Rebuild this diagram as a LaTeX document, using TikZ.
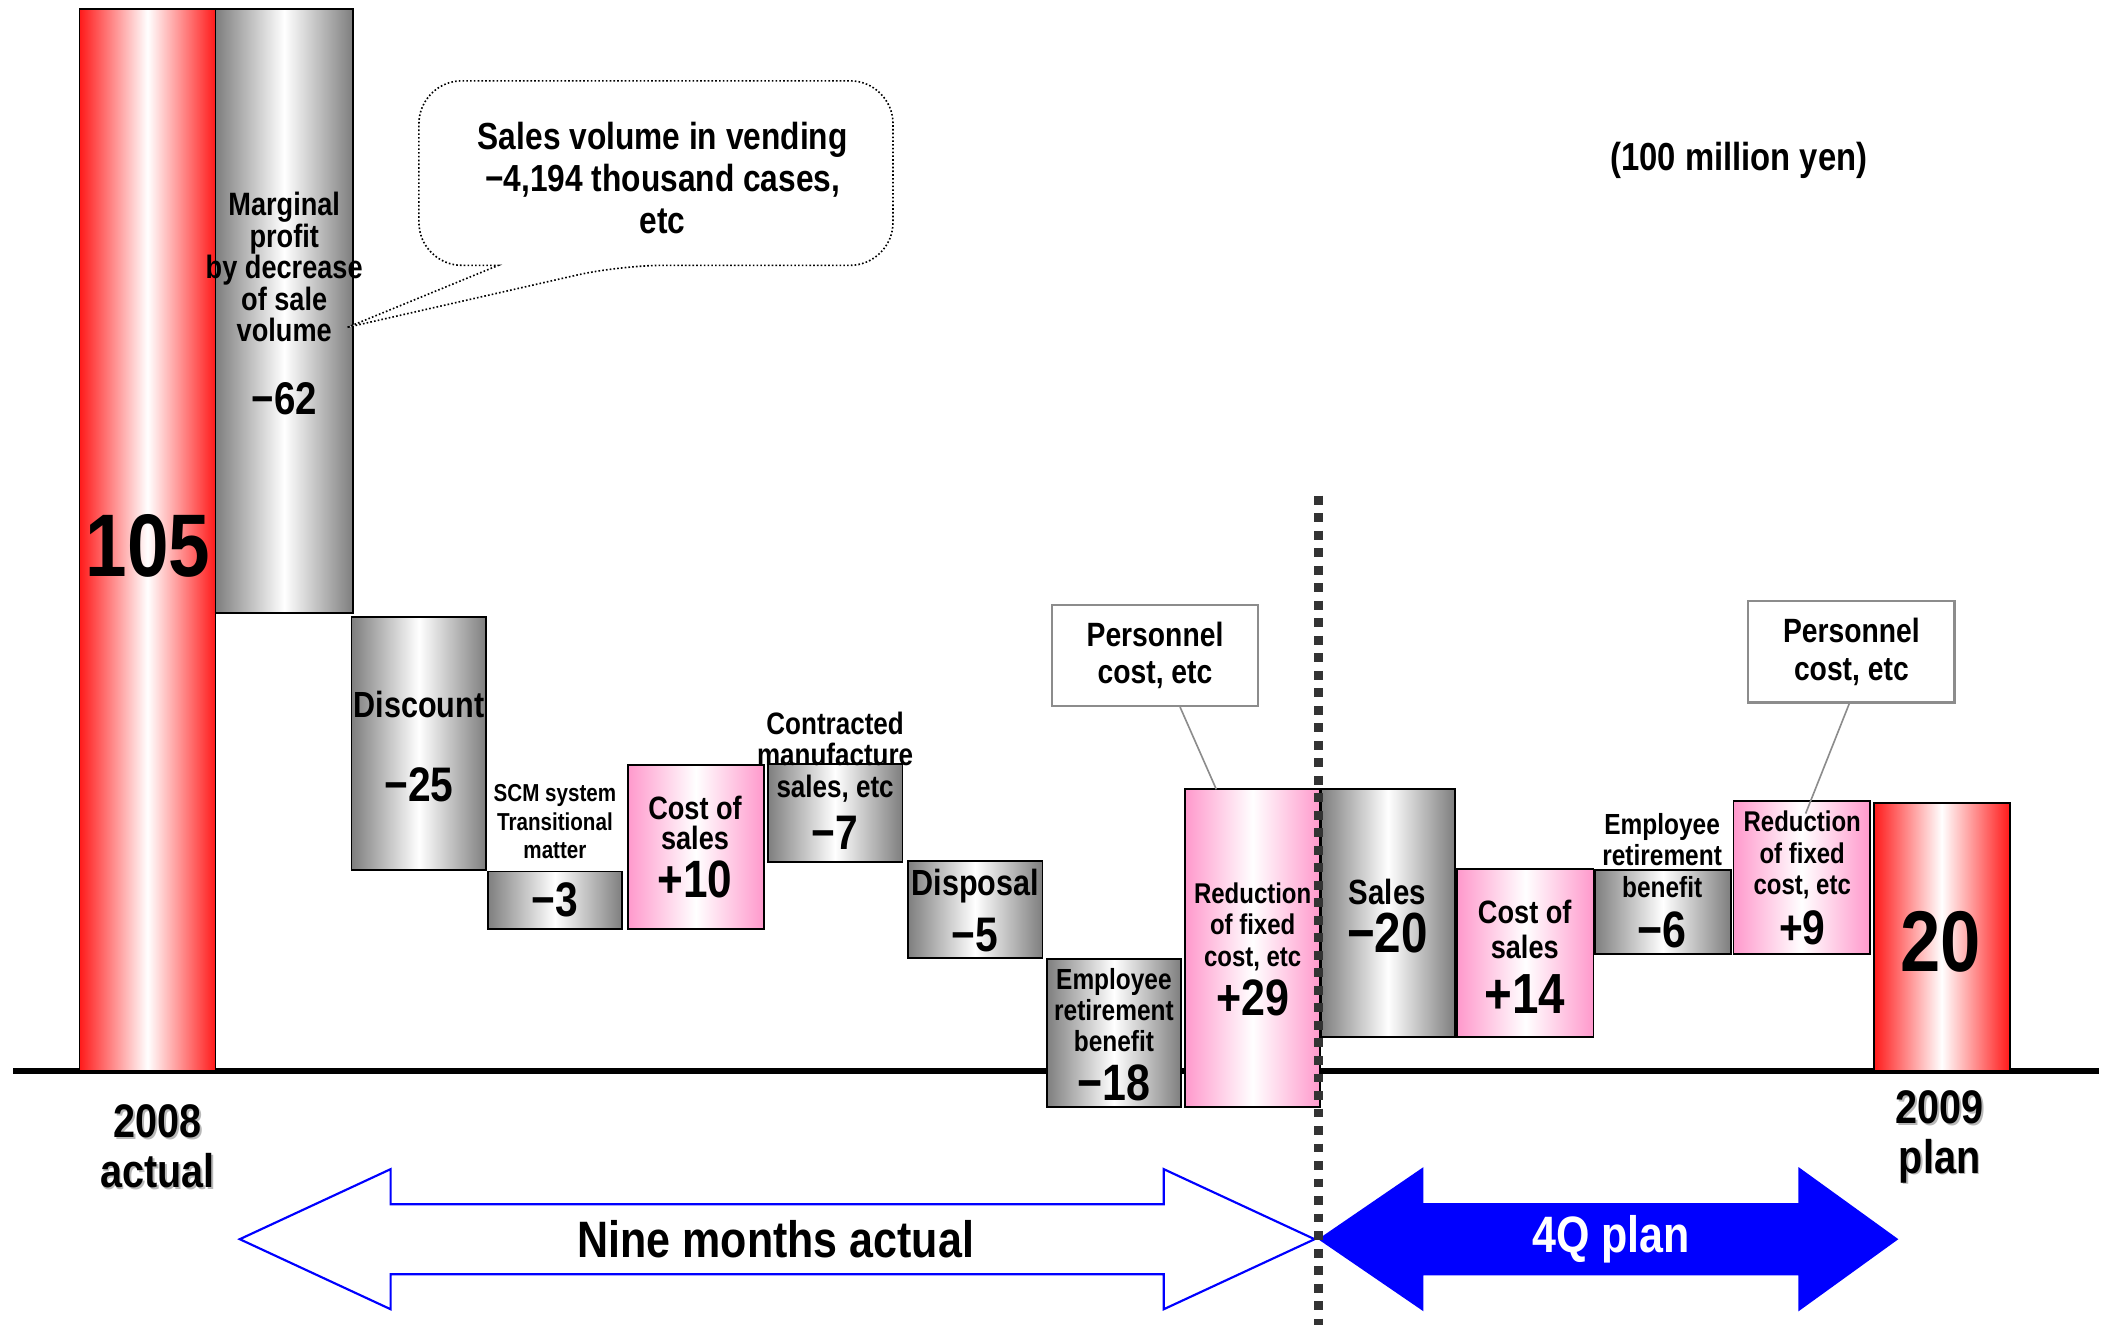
\documentclass[tikz,border=0pt]{standalone}
\usepackage{fontspec}
\setmainfont{Liberation Sans}[FakeStretch=0.84]
\usetikzlibrary{calc}
\definecolor{barred}{HTML}{FF1A1A}
\definecolor{bargrey}{HTML}{7E7E7E}
\definecolor{barpink}{HTML}{FF99CC}
\definecolor{divgrey}{HTML}{333333}
\definecolor{boxgrey}{HTML}{8C8C8C}
\definecolor{arrowblue}{HTML}{0000FF}
\newcommand\tf[2]{\bfseries\fontsize{#1}{#2}\selectfont}
\begin{document}
\begin{tikzpicture}[x=0.5pt,y=-0.5pt,
  barbox/.style={draw=black, line width=0.7pt, inner sep=0pt, outer sep=0pt, anchor=north west},
  redbar/.style={barbox, left color=barred, right color=barred, middle color=white},
  greybar/.style={barbox, left color=bargrey, right color=bargrey, middle color=white},
  pinkbar/.style={barbox, left color=barpink, right color=barpink, middle color=white},
  txt/.style={inner sep=0pt, outer sep=0pt, align=center},
  pbox/.style={draw=boxgrey, line width=0.8pt, fill=white, inner sep=0pt, align=center,
    minimum width=76.5pt, minimum height=37.5pt, font=\tf{12.5}{14}},
  pline/.style={draw=boxgrey, line width=0.6pt},
  callout/.style={draw=black, line width=0.6pt, dash pattern=on 0.6pt off 0.8pt, fill=white},
  divider/.style={draw=divgrey, line width=3.3pt, dash pattern=on 3.3pt off 3.2pt},
  spanarrow/.style={draw=arrowblue, line width=0.8pt},
  yearshadow/.style={txt, text=black!28, font=\tf{17.5}{18.5}},
  yearlabel/.style={txt, font=\tf{17.5}{18.5}},
]
% canvas
\useasboundingbox (0,0) rectangle (1568,984);
\fill[white] (0,0) rectangle (1568,984);

% horizontal axis
\coordinate (axl) at (10,795);
\coordinate (axr) at (1558,795);
\draw[line width=2pt] (axl) -- (axr);

% waterfall bars
\node[redbar,  minimum width=50.5pt, minimum height=394pt]  (b105) at (59,7) {};
\node[greybar, minimum width=51pt,   minimum height=224pt]  (b62)  at (160,7) {};
\node[greybar, minimum width=50pt,   minimum height=94pt]   (b25)  at (261,458) {};
\node[greybar, minimum width=50pt,   minimum height=21.5pt] (b3)   at (362,647) {};
\node[pinkbar, minimum width=50.5pt, minimum height=61pt]   (b10)  at (466,568) {};
\node[greybar, minimum width=50pt,   minimum height=36.5pt] (b7)   at (570,567) {};
\node[greybar, minimum width=50pt,   minimum height=36pt]   (b5)   at (674,639) {};
\node[greybar, minimum width=50pt,   minimum height=55pt]   (b18)  at (777,712) {};
\node[pinkbar, minimum width=50pt,   minimum height=118pt]  (b29)  at (880,586) {};
\node[greybar, minimum width=49.5pt, minimum height=92pt]   (b20s) at (981,586) {};
\node[pinkbar, minimum width=50.5pt, minimum height=62.5pt] (b14)  at (1082,645) {};
\node[greybar, minimum width=50.5pt, minimum height=31pt]   (b6)   at (1184,646) {};
\node[pinkbar, minimum width=50.5pt, minimum height=56.5pt] (b9)   at (1287,595) {};
\node[redbar,  minimum width=50.5pt, minimum height=99.5pt] (b20)  at (1391,596) {};

% bar labels and values
\node[txt, font=\tf{33}{33}] (v105) at (110,405) {105};
\node[txt, font=\tf{12}{11.7}] (l62) at (211,198.5) {Marginal\\profit\\by decrease\\of sale\\volume};
\node[txt, font=\tf{17}{17}] (v62) at (211,296) {−62};
\node[txt, font=\tf{13.5}{13.5}] (l25) at (311,523) {Discount};
\node[txt, font=\tf{18}{18}] (v25) at (311,583) {−25};
\node[txt, font=\tf{9.1}{10.5}] (l3) at (412,610) {SCM system\\Transitional\\matter};
\node[txt, font=\tf{18}{18}] (v3) at (412,668) {−3};
\node[txt, font=\tf{12}{11}] (l10) at (516,611) {Cost of\\sales};
\node[txt, font=\tf{19.5}{19.5}] (v10) at (516,653) {+10};
\node[txt, font=\tf{11.5}{11.75}] (l7) at (620,562) {Contracted\\manufacture\\sales, etc};
\node[txt, font=\tf{18}{18}] (v7) at (620,618) {−7};
\node[txt, font=\tf{13.5}{13.5}] (l5) at (724,658) {Disposal};
\node[txt, font=\tf{18}{18}] (v5) at (724,694) {−5};
\node[txt, font=\tf{10.8}{11.5}] (l18) at (827,750) {Employee\\retirement\\benefit};
\node[txt, font=\tf{19}{19}] (v18) at (827,804) {−18};
\node[txt, font=\tf{10.6}{11.7}] (l29) at (930,688) {Reduction\\of fixed\\cost, etc};
\node[txt, font=\tf{19}{19}] (v29) at (930,741) {+29};
\node[txt, font=\tf{13}{13}] (l20s) at (1030,662) {Sales};
\node[txt, font=\tf{21}{21}] (v20s) at (1030,693) {−20};
\node[txt, font=\tf{12}{13}] (l14) at (1132,690) {Cost of\\sales};
\node[txt, font=\tf{21}{21}] (v14) at (1132,738) {+14};
\node[txt, font=\tf{10.8}{11.7}] (l6) at (1234,635) {Employee\\retirement\\benefit};
\node[txt, font=\tf{19}{19}] (v6) at (1234,690) {−6};
\node[txt, font=\tf{10.6}{11.7}] (l9) at (1338,635) {Reduction\\of fixed\\cost, etc};
\node[txt, font=\tf{18}{18}] (v9) at (1338,689) {+9};
\node[txt, font=\tf{32}{32}] (v20) at (1441,699) {20};

% speech bubble for the sales volume note
\coordinate (tip) at (258,243);
\draw[callout] (tip) -- (370,197) [rounded corners=16pt] -- (311,197) -- (311,60)
  -- (663,60) -- (663,197) -- (460,197) [sharp corners] -- cycle;
\node[txt, font=\tf{14}{15.5}] (note) at (492,132)
  {Sales volume in vending\\−4,194 thousand cases,\\etc};

% personnel cost annotations
\node[pbox] (pc1) at (857.5,486.5) {Personnel\\cost, etc};
\draw[pline] ($(pc1.south west)!0.62!(pc1.south east)$) -- ($(b29.north west)!0.23!(b29.north east)$);
\node[pbox] (pc2) at (1374.5,484) {Personnel\\cost, etc};
\draw[pline] ($(pc2.south west)!0.49!(pc2.south east)$) -- ($(b9.north west)!0.53!(b9.north east)+(0,9)$);

% unit
\node[txt, font=\tf{14.5}{14.5}] (unit) at (1291,119) {(100 million yen)};

% year labels with soft shadow
\node[yearshadow] (y08s) at (118.2,852.2) {2008\\actual};
\node[yearlabel] (y08) at (117,851) {2008\\actual};
\node[yearshadow] (y09s) at (1441.2,845.2) {2009\\plan};
\node[yearlabel] (y09) at (1440,844) {2009\\plan};

% period arrows
\draw[spanarrow, fill=white] (178,920) -- (290,868) -- (290,894) -- (864,894) -- (864,868)
  -- (976,920) -- (864,972) -- (864,946) -- (290,946) -- (290,972) -- cycle;
\node[txt, font=\tf{19}{19}] (nine) at (576,920) {Nine months actual};
\draw[spanarrow, fill=arrowblue] (980,920) -- (1056,868) -- (1056,894) -- (1336,894) -- (1336,868)
  -- (1408,920) -- (1336,972) -- (1336,946) -- (1056,946) -- (1056,972) -- cycle;
\node[txt, text=white, font=\tf{19}{19}] (fourq) at (1196,920) {4Q plan};

% divider between actual and plan
\coordinate (dtop) at (979,368);
\coordinate (dbot) at (979,984);
\draw[divider] (dtop) -- (dbot);
\end{tikzpicture}
\end{document}
